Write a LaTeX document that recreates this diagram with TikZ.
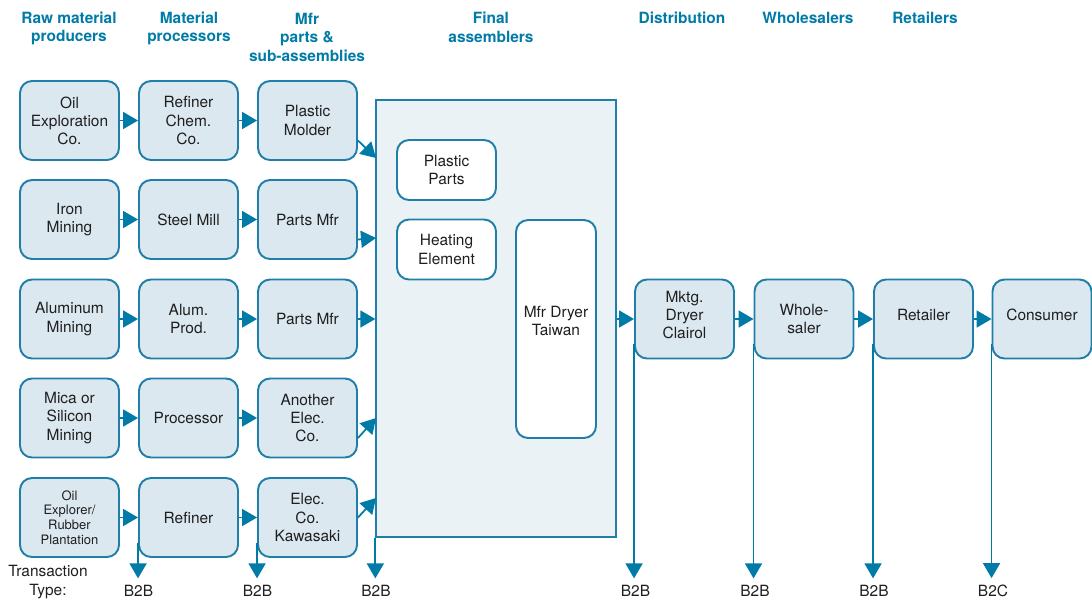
\documentclass[tikz,border=0pt]{standalone}
\usepackage{fontspec}
\setmainfont{TeX Gyre Heros}
\usetikzlibrary{arrows.meta}
\definecolor{sclblue}{HTML}{007BA7}
\definecolor{sclline}{HTML}{1F7FA8}
\definecolor{sclfill}{HTML}{DCE8F0}
\definecolor{sclpale}{HTML}{EAF2F6}

\begin{document}
\begin{tikzpicture}[x=0.02cm,y=0.02cm]
\tikzstyle{every node}+=[inner sep=0pt, text=black!88, font=\fontsize{8.8}{10.3}\selectfont]
\tikzstyle{firm}=[draw=sclline, line width=1.1pt, fill=sclfill, rounded corners=0.24cm, minimum width=1.98cm, minimum height=1.58cm, align=center]
\tikzstyle{part}=[firm, fill=white, minimum height=1.2cm]
\tikzstyle{head}=[text=sclblue, font=\fontsize{8.8}{10.5}\selectfont\bfseries, align=center]
\tikzstyle{flow}=[draw=sclblue, line width=1pt, -{Triangle[length=0.3cm,width=0.34cm]}]
\tikzstyle{deal}=[outer sep=0.14cm]
\useasboundingbox (0,0) rectangle (1092,-600);
\node [head] (h1) at (69,-28.5) {Raw material\\producers};
\node [head] (h2) at (189,-28.5) {Material\\processors};
\node [head] (h3) at (307,-37) {Mfr\\parts \&\\sub-assemblies};
\node [head] (h4) at (491,-27.5) {Final\\assemblers};
\node [head] (h5) at (682,-18) {Distribution};
\node [head] (h6) at (808,-18) {Wholesalers};
\node [head] (h7) at (925,-18) {Retailers};
\node [firm] (ox) at (69.5,-120.5) {Oil\\Exploration\\Co.};
\node [firm] (rc) at (188.5,-120.5) {Refiner\\Chem.\\Co.};
\node [firm] (pm) at (307.5,-120.5) {Plastic\\Molder};
\node [firm] (im) at (69.5,-219.5) {Iron\\Mining};
\node [firm] (sm) at (188.5,-219.5) {Steel Mill};
\node [firm] (pf) at (307.5,-219.5) {Parts Mfr};
\node [firm] (am) at (69.5,-319) {Aluminum\\Mining};
\node [firm] (ap) at (188.5,-319) {Alum.\\Prod.};
\node [firm] (pa) at (307.5,-319) {Parts Mfr};
\node [firm] (mm) at (69.5,-418) {Mica or\\Silicon\\Mining};
\node [firm] (mp) at (188.5,-418) {Processor};
\node [firm] (ae) at (307.5,-418) {Another\\Elec.\\Co.};
\node [firm, font=\fontsize{7.4}{8.4}\selectfont] (rp) at (69.5,-517.5) {Oil\\Explorer/\\Rubber\\Plantation};
\node [firm] (rf) at (188.5,-517.5) {Refiner};
\node [firm] (ek) at (307.5,-517.5) {Elec.\\Co.\\Kawasaki};
\node [draw=sclline, line width=0.8pt, fill=sclpale, minimum width=4.8cm, minimum height=8.74cm] (fa) at (496,-318.5) {};
\node [part] (pp) at (446.5,-170) {Plastic\\Parts};
\node [part] (he) at (446.5,-249.5) {Heating\\Element};
\node [part, minimum width=1.6cm, minimum height=4.36cm, text depth=0.32cm] (md) at (556,-329) {Mfr Dryer\\Taiwan};
\node [firm, text depth=0.16cm] (mk) at (684.5,-319) {Mktg.\\Dryer\\Clairol};
\node [firm] (ws) at (804,-319) {Whole-\\saler};
\node [firm, text depth=0.16cm] (rt) at (923.5,-319) {Retailer};
\node [firm, text depth=0.16cm] (cs) at (1042,-319) {Consumer};
\coordinate (in1) at (376,-158);
\coordinate (in2) at (376,-238);
\coordinate (in4) at (376,-418);
\coordinate (in5) at (376,-498);
\draw [flow] (ox) -- (rc);
\draw [flow] (rc) -- (pm);
\draw [flow] (im) -- (sm);
\draw [flow] (sm) -- (pf);
\draw [flow] (am) -- (ap);
\draw [flow] (ap) -- (pa);
\draw [flow] (mm) -- (mp);
\draw [flow] (mp) -- (ae);
\draw [flow] (rp) -- (rf);
\draw [flow] (rf) -- (ek);
\draw [flow] ([yshift=-0.4cm]pm.east) -- (in1);
\draw [flow] ([yshift=-0.4cm]pf.east) -- (in2);
\draw [flow] (pa.east) -- (pa.east -| fa.west);
\draw [flow] ([yshift=-0.4cm]ae.east) -- (in4);
\draw [flow] (ek.east) -- (in5);
\draw [flow] (fa.east |- mk.west) -- (mk.west);
\draw [flow] (mk) -- (ws);
\draw [flow] (ws) -- (rt);
\draw [flow] (rt) -- (cs);
\node [align=center] (tt) at (48,-582) {Transaction\\Type:};
\node [deal] (t1) at (138.5,-591) {B2B};
\node [deal] (t2) at (257.5,-591) {B2B};
\node [deal] (t3) at (376,-591) {B2B};
\node [deal] (t4) at (635.5,-591) {B2B};
\node [deal] (t5) at (755,-591) {B2B};
\node [deal] (t6) at (874,-591) {B2B};
\node [deal] (t7) at (993,-591) {B2C};
\draw [flow] ([yshift=0.3cm]rf.south west) -- (rf.south west |- t1.north);
\draw [flow] ([yshift=0.3cm]ek.south west) -- (ek.south west |- t2.north);
\draw [flow] (fa.south west) -- (fa.south west |- t3.north);
\draw [flow] ([yshift=0.3cm]mk.south west) -- (mk.south west |- t4.north);
\draw [flow] ([yshift=0.3cm]ws.south west) -- (ws.south west |- t5.north);
\draw [flow] ([yshift=0.3cm]rt.south west) -- (rt.south west |- t6.north);
\draw [flow] ([yshift=0.3cm]cs.south west) -- (cs.south west |- t7.north);
\end{tikzpicture}
\end{document}
